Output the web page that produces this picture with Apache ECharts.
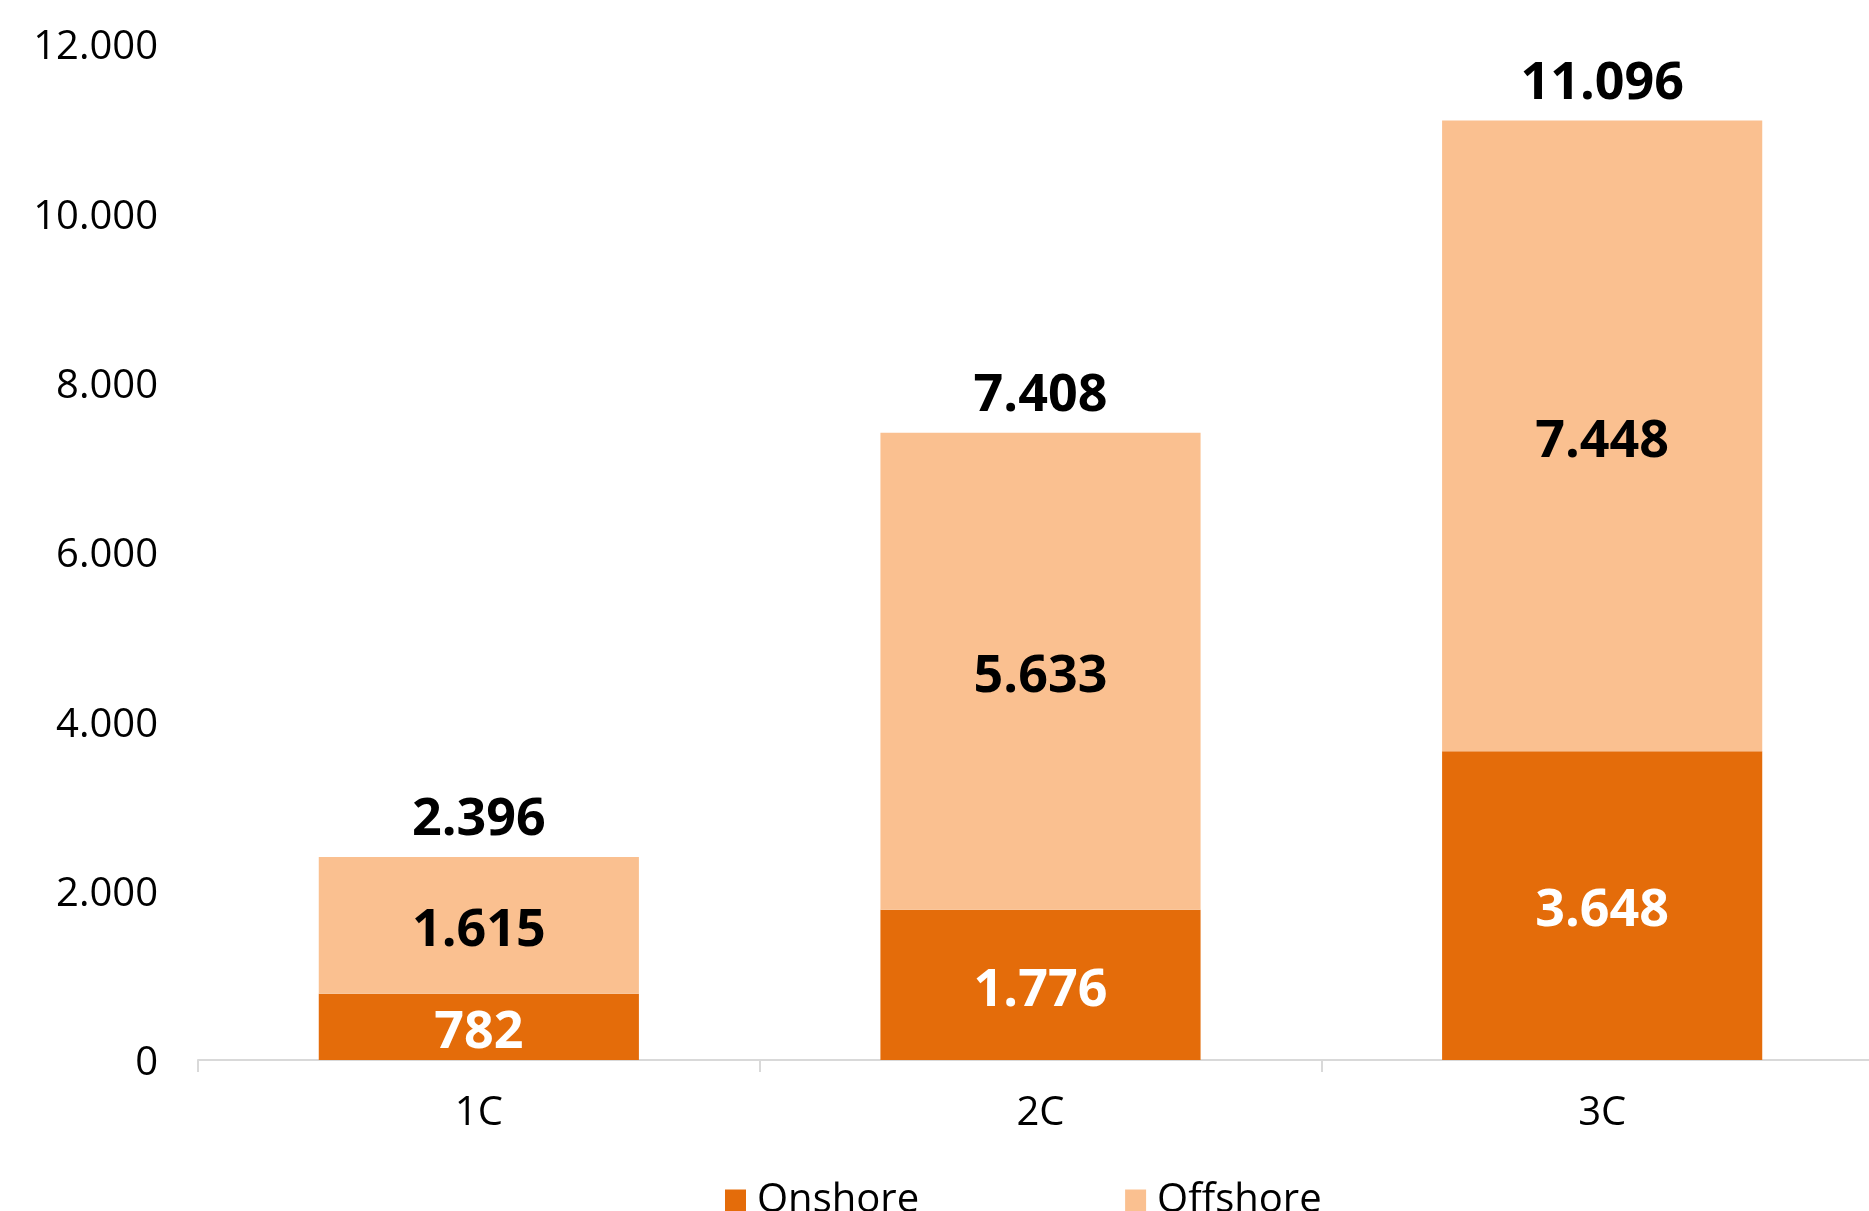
<!DOCTYPE html>
<html>
<head>
<meta charset="utf-8">
<script src="https://cdn.jsdelivr.net/npm/echarts@6/dist/echarts.min.js"></script>
<style>
  html, body { margin: 0; padding: 0; background: #fff; }
  #chart { width: 1869px; height: 1211px; }
</style>
</head>
<body>
<div id="chart"></div>
<script>
const categories = ["1C", "2C", "3C"];
const onshore = [782, 1776, 3648];
const offshore = [1615, 5633, 7448];
const totals = [2396, 7408, 11096];

const onshoreColor = "#E46C0A";
const offshoreColor = "#FAC090";
const fontFamily = "'Open Sans', sans-serif";

function formatThousands(value) {
  return String(value).replace(/\B(?=(\d{3})+(?!\d))/g, ".");
}

function barLabel(color) {
  return {
    show: true,
    position: "inside",
    offset: [0, 6],
    color: color,
    fontSize: 52,
    fontWeight: "bold",
    fontFamily: fontFamily,
    formatter: (p) => formatThousands(p.value),
  };
}

const chart = echarts.init(document.getElementById("chart"));

chart.setOption({
  backgroundColor: "#fff",
  animation: false,
  textStyle: { fontFamily: fontFamily },
  grid: { left: 198, width: 1685, top: 44, bottom: 151, outerBoundsMode: "none" },
  legend: {
    data: ["Onshore", "Offshore"],
    left: 720,
    top: 1176,
    itemWidth: 21,
    itemHeight: 23,
    itemGap: 206,
    icon: "rect",
    textStyle: { fontSize: 40, color: "#000", fontFamily: fontFamily, padding: [0, 0, 0, 6] },
  },
  xAxis: {
    type: "category",
    data: categories,
    axisLine: { lineStyle: { color: "#D9D9D9", width: 2 } },
    axisTick: { show: true, length: 12, lineStyle: { color: "#D9D9D9", width: 2 } },
    axisLabel: { color: "#000", fontSize: 40, margin: 34, fontFamily: fontFamily },
  },
  yAxis: {
    type: "value",
    min: 0,
    max: 12000,
    interval: 2000,
    axisLine: { show: false },
    axisTick: { show: false },
    splitLine: { show: false },
    axisLabel: {
      color: "#000",
      fontSize: 40,
      margin: 40,
      fontFamily: fontFamily,
      verticalAlign: "top",
      lineHeight: 8,
      formatter: (v) => formatThousands(v),
    },
  },
  series: [
    {
      name: "Onshore",
      type: "bar",
      stack: "total",
      barCategoryGap: "43%",
      itemStyle: { color: onshoreColor },
      label: barLabel("#fff"),
      data: onshore,
    },
    {
      name: "Offshore",
      type: "bar",
      stack: "total",
      barCategoryGap: "43%",
      itemStyle: { color: offshoreColor },
      label: barLabel("#000"),
      data: offshore,
    },
    {
      name: "Total",
      type: "line",
      symbol: "circle",
      symbolSize: 1,
      showSymbol: true,
      itemStyle: { color: "rgba(0,0,0,0)" },
      lineStyle: { width: 0, color: "rgba(0,0,0,0)" },
      silent: true,
      z: 5,
      label: {
        show: true,
        position: "top",
        distance: 10,
        color: "#000",
        fontSize: 52,
        fontWeight: "bold",
        fontFamily: fontFamily,
        formatter: (p) => formatThousands(p.value),
      },
      data: totals,
    },
  ],
});
</script>
</body>
</html>
